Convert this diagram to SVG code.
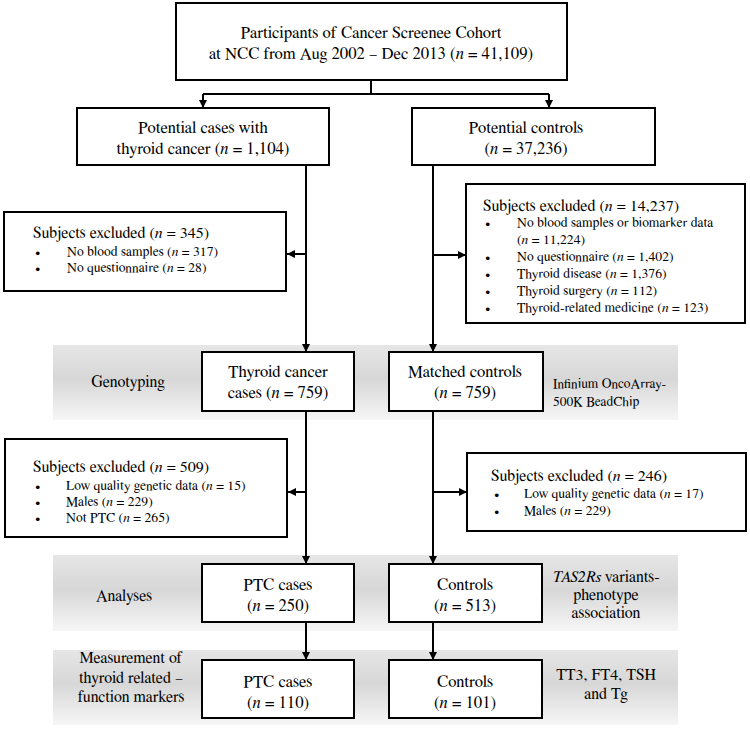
<svg xmlns="http://www.w3.org/2000/svg" width="750" height="730" viewBox="0 0 750 730">
<defs>
<linearGradient id="band" x1="0" y1="0" x2="0" y2="1">
<stop offset="0" stop-color="#e6e6e6"/>
<stop offset="0.45" stop-color="#d7d7d7"/>
<stop offset="1" stop-color="#f6f6f6"/>
</linearGradient>
<marker id="ah" markerWidth="8" markerHeight="8" refX="8" refY="4" orient="auto" markerUnits="userSpaceOnUse">
<path d="M0,0 L8,4 L0,8 Z" fill="#000"/>
</marker>
<style>
text{font-family:FreeSerif,"Liberation Serif","DejaVu Serif",serif;fill:#000}
.box{fill:#fff;stroke:#000;stroke-width:2}
.band{fill:url(#band)}
.m{font-size:16.7px;text-anchor:middle}
.t{font-size:16px}
.i{font-size:13.7px}
.lab{font-size:16px;text-anchor:middle}
.sm{font-size:13.5px}
.it{font-style:italic}
.ln{fill:none;stroke:#000;stroke-width:2}
</style>
</defs>

<g id="bands">
<rect class="band" x="53" y="345" width="625" height="75"/>
<rect class="band" x="53" y="555" width="625" height="76"/>
<rect class="band" x="53" y="650" width="625" height="75"/>
</g>

<g id="connectors">
<polyline class="ln" points="371,80 371,94"/>
<polyline class="ln" points="203,94 549,94"/>
<line class="ln" x1="203" y1="94" x2="203" y2="108" marker-end="url(#ah)"/>
<line class="ln" x1="549" y1="94" x2="549" y2="108" marker-end="url(#ah)"/>
<line class="ln" x1="306" y1="165" x2="306" y2="352" marker-end="url(#ah)"/>
<line class="ln" x1="433" y1="165" x2="433" y2="352" marker-end="url(#ah)"/>
<line class="ln" x1="306" y1="254" x2="287" y2="254" marker-end="url(#ah)"/>
<line class="ln" x1="433" y1="255" x2="466" y2="255" marker-end="url(#ah)"/>
<line class="ln" x1="306" y1="411" x2="306" y2="564" marker-end="url(#ah)"/>
<line class="ln" x1="433" y1="411" x2="433" y2="564" marker-end="url(#ah)"/>
<line class="ln" x1="306" y1="492" x2="288" y2="492" marker-end="url(#ah)"/>
<line class="ln" x1="433" y1="492" x2="467" y2="492" marker-end="url(#ah)"/>
<line class="ln" x1="306" y1="622" x2="306" y2="660" marker-end="url(#ah)"/>
<line class="ln" x1="433" y1="622" x2="433" y2="660" marker-end="url(#ah)"/>
</g>

<g id="participants">
<rect class="box" x="176" y="3" width="391" height="77"/>
<text class="m" x="371" y="38">Participants of Cancer Screenee Cohort</text>
<text class="m" x="371" y="59">at NCC from Aug 2002 – Dec 2013 (<tspan class="it">n</tspan> = 41,109)</text>
</g>

<g id="potential-cases">
<rect class="box" x="77" y="108" width="252" height="57"/>
<text class="m" x="203" y="133">Potential cases with</text>
<text class="m" x="203" y="154">thyroid cancer (<tspan class="it">n</tspan> = 1,104)</text>
</g>

<g id="potential-controls">
<rect class="box" x="412" y="108" width="243" height="57"/>
<text class="m" x="526" y="133">Potential controls</text>
<text class="m" x="526" y="154">(<tspan class="it">n</tspan> = 37,236)</text>
</g>

<g id="excluded-cases-1">
<rect class="box" x="4" y="212" width="282" height="79"/>
<text class="t" x="33" y="237.5">Subjects excluded (<tspan class="it">n</tspan> = 345)</text>
<text class="i" x="35" y="255.5">•</text>
<text class="i" x="67" y="255.5">No blood samples (<tspan class="it">n</tspan> = 317)</text>
<text class="i" x="35" y="271.5">•</text>
<text class="i" x="67" y="271.5">No questionnaire (<tspan class="it">n</tspan> = 28)</text>
</g>

<g id="excluded-controls-1">
<rect class="box" x="466" y="184" width="279" height="139"/>
<text class="t" x="483" y="210.5">Subjects excluded (<tspan class="it">n</tspan> = 14,237)</text>
<text class="i" x="485" y="226.5">•</text>
<text class="i" x="517" y="226.5">No blood samples or biomarker data</text>
<text class="i" x="517" y="243.5">(<tspan class="it">n</tspan> = 11,224)</text>
<text class="i" x="485" y="260.5">•</text>
<text class="i" x="517" y="260.5">No questionnaire (<tspan class="it">n</tspan> = 1,402)</text>
<text class="i" x="485" y="277.5">•</text>
<text class="i" x="517" y="277.5">Thyroid disease (<tspan class="it">n</tspan> = 1,376)</text>
<text class="i" x="485" y="294.5">•</text>
<text class="i" x="517" y="294.5">Thyroid surgery (<tspan class="it">n</tspan> = 112)</text>
<text class="i" x="485" y="311.5">•</text>
<text class="i" x="517" y="311.5">Thyroid-related medicine (<tspan class="it">n</tspan> = 123)</text>
</g>

<g id="genotyping-label">
<text class="lab" x="128" y="387">Genotyping</text>
</g>

<g id="thyroid-cancer-cases">
<rect class="box" x="202" y="352" width="152" height="59"/>
<text class="m" x="278" y="377">Thyroid cancer</text>
<text class="m" x="278" y="398">cases (<tspan class="it">n</tspan> = 759)</text>
</g>

<g id="matched-controls">
<rect class="box" x="389" y="352" width="154" height="59"/>
<text class="m" x="465" y="377">Matched controls</text>
<text class="m" x="465" y="398">(<tspan class="it">n</tspan> = 759)</text>
</g>

<g id="genotyping-platform">
<text class="sm" x="553" y="388">Infinium OncoArray-</text>
<text class="sm" x="553" y="406">500K BeadChip</text>
</g>

<g id="excluded-cases-2">
<rect class="box" x="5" y="439" width="282" height="98"/>
<text class="t" x="33" y="471.5">Subjects excluded (<tspan class="it">n</tspan> = 509)</text>
<text class="i" x="35" y="489.5">•</text>
<text class="i" x="66" y="489.5">Low quality genetic data (<tspan class="it">n</tspan> = 15)</text>
<text class="i" x="35" y="505.5">•</text>
<text class="i" x="66" y="505.5">Males (<tspan class="it">n</tspan> = 229)</text>
<text class="i" x="35" y="521.5">•</text>
<text class="i" x="66" y="521.5">Not PTC (<tspan class="it">n</tspan> = 265)</text>
</g>

<g id="excluded-controls-2">
<rect class="box" x="467" y="453" width="279" height="78"/>
<text class="t" x="491" y="480.5">Subjects excluded (<tspan class="it">n</tspan> = 246)</text>
<text class="i" x="494" y="497.5">•</text>
<text class="i" x="524" y="497.5">Low quality genetic data (<tspan class="it">n</tspan> = 17)</text>
<text class="i" x="494" y="514.5">•</text>
<text class="i" x="524" y="514.5">Males (<tspan class="it">n</tspan> = 229)</text>
</g>

<g id="analyses-label">
<text class="lab" x="124" y="601">Analyses</text>
</g>

<g id="ptc-cases-250">
<rect class="box" x="202" y="564" width="152" height="58"/>
<text class="m" x="278" y="590">PTC cases</text>
<text class="m" x="278" y="611">(<tspan class="it">n</tspan> = 250)</text>
</g>

<g id="controls-513">
<rect class="box" x="389" y="564" width="153" height="58"/>
<text class="m" x="465" y="590">Controls</text>
<text class="m" x="465" y="611">(<tspan class="it">n</tspan> = 513)</text>
</g>

<g id="analyses-note">
<text class="lab" x="606" y="582"><tspan class="it">TAS2Rs</tspan> variants-</text>
<text class="lab" x="606" y="600">phenotype</text>
<text class="lab" x="606" y="618">association</text>
</g>

<g id="measurement-label">
<text class="lab" x="131" y="663">Measurement of</text>
<text class="lab" x="131" y="683">thyroid related –</text>
<text class="lab" x="131" y="702">function markers</text>
</g>

<g id="ptc-cases-110">
<rect class="box" x="202" y="660" width="152" height="58"/>
<text class="m" x="278" y="687">PTC cases</text>
<text class="m" x="278" y="708">(<tspan class="it">n</tspan> = 110)</text>
</g>

<g id="controls-101">
<rect class="box" x="389" y="660" width="153" height="58"/>
<text class="m" x="465" y="687">Controls</text>
<text class="m" x="465" y="708">(<tspan class="it">n</tspan> = 101)</text>
</g>

<g id="measurement-note">
<text class="lab" x="606" y="680">TT3, FT4, TSH</text>
<text class="lab" x="606" y="699">and Tg</text>
</g>
</svg>
